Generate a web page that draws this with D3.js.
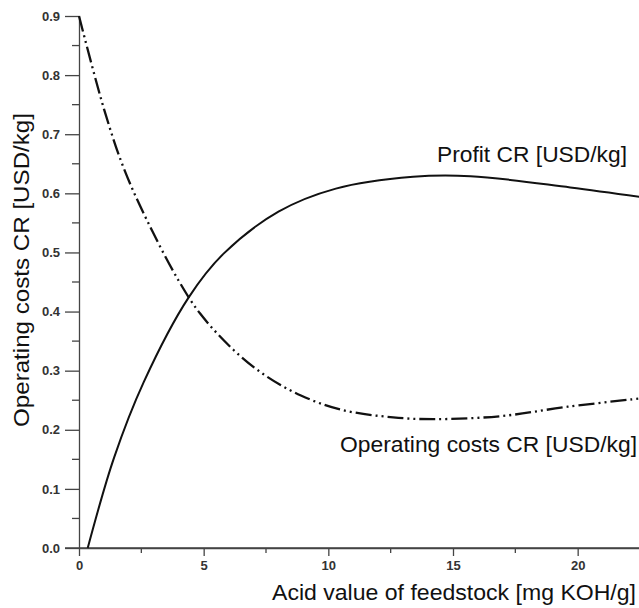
<!DOCTYPE html>
<html>
<head>
<meta charset="utf-8">
<script src="https://cdn.jsdelivr.net/npm/d3@7"></script>
<style>
  body { margin: 0; background: #fff; }
  text { font-family: "Liberation Sans", Arial, sans-serif; }
</style>
</head>
<body>
<script>
// values
var profitX = [0.35, 1.4, 2.6, 4.4, 5.8, 8.0, 10.3, 13.4, 15.7, 19.7, 22.5];
var profitY = [0, 0.152, 0.281, 0.424, 0.498, 0.569, 0.608, 0.628, 0.629, 0.610, 0.594];

var costX = [0, 1.0, 1.8, 2.8, 4.0, 4.85, 6.2, 7.5, 8.9, 10.5, 12.6, 14.2, 16.9, 19.6, 22.5];
var costY = [0.90, 0.743, 0.642, 0.548, 0.452, 0.397, 0.335, 0.291, 0.258, 0.234, 0.221, 0.218, 0.223, 0.239, 0.253];

var xTicks = [0, 5, 10, 15, 20];
var xMinor = [2.5, 7.5, 12.5, 17.5, 22.5];
var yTicks = [0, 0.1, 0.2, 0.3, 0.4, 0.5, 0.6, 0.7, 0.8, 0.9];
var yMinor = [0.05, 0.15, 0.25, 0.35, 0.45, 0.55, 0.65, 0.75, 0.85];

var width = 639, height = 608;
var x0 = 79, y0 = 548;

var svg = d3.select("body").append("svg")
    .attr("width", width)
    .attr("height", height);

var x = d3.scaleLinear().domain([0, 22.46]).range([x0, 639]);
var y = d3.scaleLinear().domain([0, 0.9]).range([y0, 16]);

var axisCol = "#444";

// y axis
var yAxis = svg.append("g").attr("transform", "translate(" + x0 + ",0)")
    .call(d3.axisLeft(y).tickValues(yTicks).tickFormat(d3.format(".1f")).tickSize(14).tickSizeOuter(0));
yAxis.select(".domain").attr("stroke", axisCol).attr("stroke-width", 1.3);
yAxis.selectAll(".tick line").attr("stroke", axisCol).attr("stroke-width", 1.3);
yAxis.selectAll(".tick text")
    .attr("x", -19)
    .attr("font-size", "13px")
    .attr("font-weight", "bold")
    .attr("fill", "#333")
    .attr("font-family", "Liberation Sans, Arial, sans-serif");
svg.append("g").selectAll("line").data(yMinor).enter().append("line")
    .attr("x1", x0 - 7).attr("x2", x0)
    .attr("y1", function(d) { return y(d); }).attr("y2", function(d) { return y(d); })
    .attr("stroke", axisCol).attr("stroke-width", 1.3);

// x axis
var xAxis = svg.append("g").attr("transform", "translate(0," + y0 + ")")
    .call(d3.axisBottom(x).tickValues(xTicks).tickFormat(d3.format("d")).tickSize(8).tickSizeOuter(0));
xAxis.select(".domain").attr("stroke", axisCol).attr("stroke-width", 1.3);
xAxis.selectAll(".tick line").attr("stroke", axisCol).attr("stroke-width", 1.3);
xAxis.selectAll(".tick text")
    .attr("y", 13)
    .attr("font-size", "13px")
    .attr("font-weight", "bold")
    .attr("fill", "#333")
    .attr("font-family", "Liberation Sans, Arial, sans-serif");
svg.append("g").selectAll("line").data(xMinor).enter().append("line")
    .attr("x1", function(d) { return x(d); }).attr("x2", function(d) { return x(d); })
    .attr("y1", y0).attr("y2", y0 + 5)
    .attr("stroke", axisCol).attr("stroke-width", 1.3);
// axis line reaching left under the 0.0 tick
svg.append("line").attr("x1", x0 - 14).attr("x2", 639).attr("y1", y0).attr("y2", y0)
    .attr("stroke", axisCol).attr("stroke-width", 1.3);

// curves
var line = d3.line()
    .x(function(d) { return x(d[0]); })
    .y(function(d) { return y(d[1]); })
    .curve(d3.curveCatmullRom.alpha(0.5));

svg.append("path")
    .datum(d3.zip(profitX, profitY))
    .attr("d", line)
    .attr("fill", "none")
    .attr("stroke", "#111")
    .attr("stroke-width", 2);

svg.append("path")
    .datum(d3.zip(costX, costY))
    .attr("d", line)
    .attr("fill", "none")
    .attr("stroke", "#111")
    .attr("stroke-width", 2.3)
    .attr("stroke-dasharray", "16,4,2,4,2,4");

// labels
svg.append("text")
    .attr("x", 437).attr("y", 162)
    .attr("font-size", "22px").attr("fill", "#111")
    .attr("textLength", 190).attr("lengthAdjust", "spacingAndGlyphs")
    .text("Profit CR [USD/kg]");

svg.append("text")
    .attr("x", 340).attr("y", 452)
    .attr("font-size", "22px").attr("fill", "#111")
    .attr("textLength", 297).attr("lengthAdjust", "spacingAndGlyphs")
    .text("Operating costs CR [USD/kg]");

svg.append("text")
    .attr("x", 272).attr("y", 600)
    .attr("font-size", "22px").attr("fill", "#111")
    .attr("textLength", 364).attr("lengthAdjust", "spacingAndGlyphs")
    .text("Acid value of feedstock [mg KOH/g]");

svg.append("text")
    .attr("transform", "translate(29,270) rotate(-90)")
    .attr("text-anchor", "middle")
    .attr("font-size", "22px").attr("fill", "#111")
    .attr("textLength", 314).attr("lengthAdjust", "spacingAndGlyphs")
    .text("Operating costs CR [USD/kg]");
</script>
</body>
</html>
